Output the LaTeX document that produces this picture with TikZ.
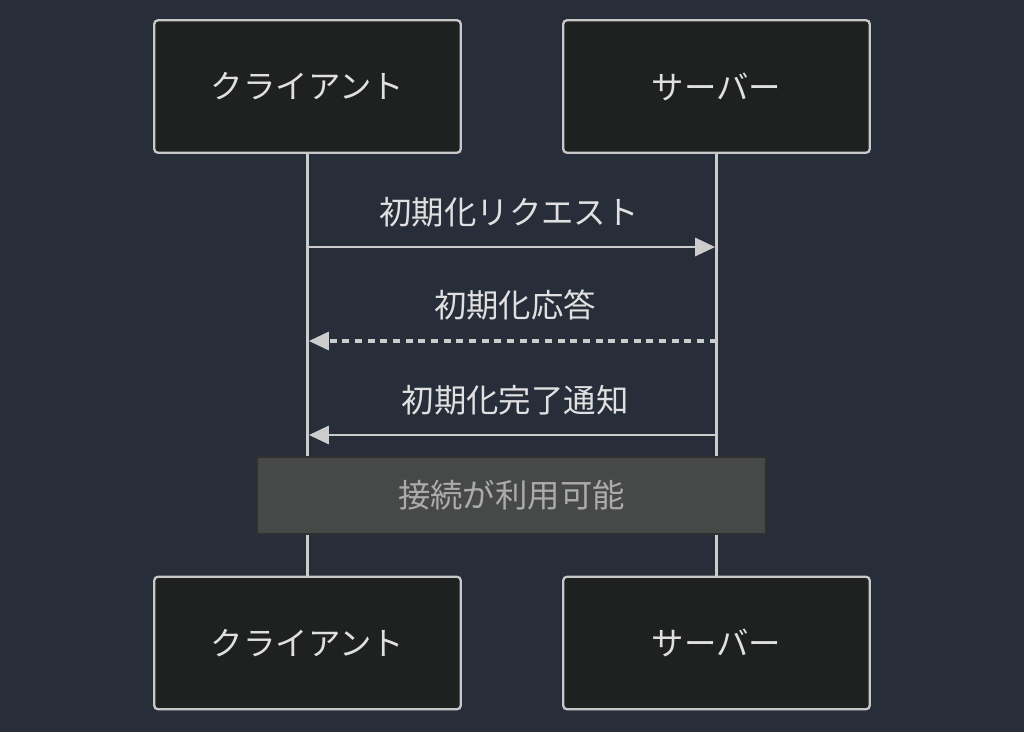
\documentclass[tikz,border=0pt]{standalone}
\usepackage{fontspec}
\newfontfamily\cjk{Noto Sans CJK JP}
\usetikzlibrary{arrows.meta}
\definecolor{bg}{HTML}{282D3A}
\definecolor{boxfill}{HTML}{1F2020}
\definecolor{boxline}{HTML}{C8C8C8}
\definecolor{linec}{HTML}{CCCCCC}
\definecolor{txt}{HTML}{E0E0E0}
\definecolor{notefill}{HTML}{474948}
\definecolor{noteline}{HTML}{2F302F}
\definecolor{notetxt}{HTML}{ABABAB}
\tikzset{
  actor/.style={draw=boxline, fill=boxfill, line width=1.7pt, rounded corners=3pt,
    minimum width=230pt, minimum height=99.5pt, inner sep=0pt,
    text=txt, font=\cjk\fontsize{24.3}{29}\selectfont},
  life/.style={draw=linec, line width=2.6pt},
  msg/.style={draw=linec, line width=2.2pt, -{Triangle[length=15pt,width=13.5pt]}, shorten >=1pt},
  reply/.style={msg, dash pattern=on 5.25pt off 4.25pt, line width=2.5pt},
  lbl/.style={text=txt, font=\cjk\fontsize{24.3}{29}\selectfont, inner sep=0pt},
  note/.style={draw=noteline, fill=notefill, line width=1.7pt, minimum width=381.75pt,
    minimum height=57.75pt, inner sep=0pt, text=notetxt, font=\cjk\fontsize{24.3}{29}\selectfont}
}
\begin{document}
\begin{tikzpicture}[x=0.75pt,y=-0.75pt]
\fill[bg] (0,0) rectangle (1024,732);
\useasboundingbox (0,0) rectangle (1024,732);
\node[actor] (ct) at (307.5,86.5) {クライアント};
\node[actor] (st) at (716.5,86.5) {サーバー};
\node[actor] (cb) at (307.5,643) {クライアント};
\node[actor] (sb) at (716.5,643) {サーバー};
\draw[life] (ct.south) -- (cb.north);
\draw[life] (st.south) -- (sb.north);
\coordinate (c1) at (307.5,247);
\coordinate (s1) at (716.5,247);
\coordinate (c2) at (307.5,341);
\coordinate (s2) at (716.5,341);
\coordinate (c3) at (307.5,435);
\coordinate (s3) at (716.5,435);
\draw[msg] (c1) -- (s1);
\draw[reply] (s2) -- (c2);
\draw[msg] (s3) -- (c3);
\node[lbl] (l1) at (509,212) {初期化リクエスト};
\node[lbl] (l2) at (515,305) {初期化応答};
\node[lbl] (l3) at (515,400) {初期化完了通知};
\node[note] (n) at (511.5,495.5) {接続が利用可能};
\end{tikzpicture}
\end{document}
